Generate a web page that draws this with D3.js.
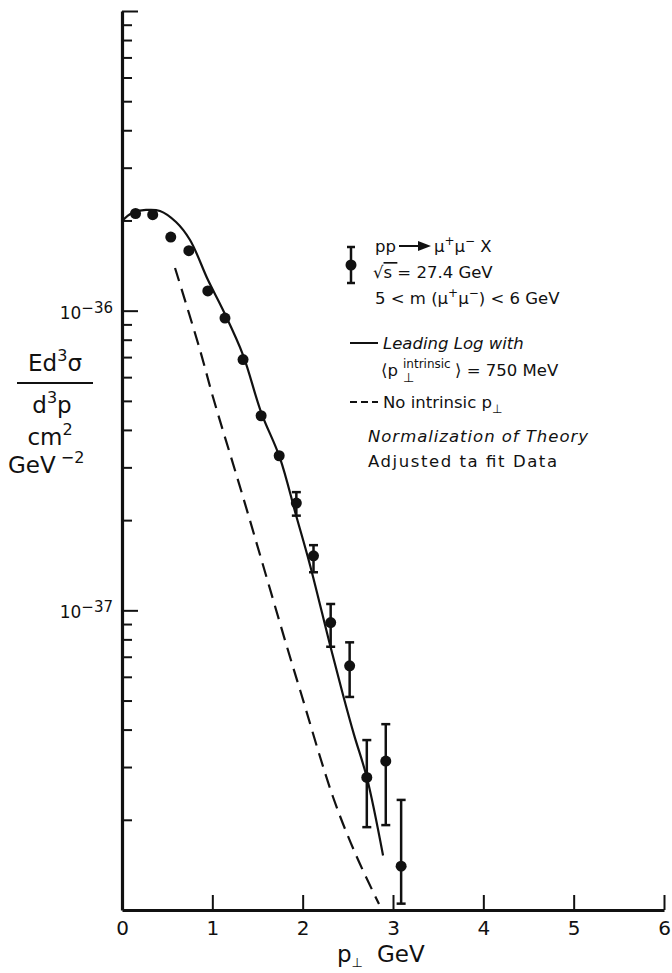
<!DOCTYPE html>
<html>
<head>
<meta charset="utf-8">
<script src="https://cdn.jsdelivr.net/npm/d3@7"></script>
<style>
  body { margin: 0; background: #fff; }
  text { font-family: "DejaVu Sans", sans-serif; fill: #111; }
</style>
</head>
<body>
<div id="chart"></div>
<script>
// measured points (pT in GeV, E d3sigma/d3p in cm^2 GeV^-2)
var ptData  = [0.15, 0.34, 0.54, 0.74, 0.95, 1.14, 1.34, 1.54, 1.74, 1.93, 2.12, 2.31, 2.52, 2.71, 2.92, 3.09];
var sigData = [2.11e-36, 2.09e-36, 1.76e-36, 1.585e-36, 1.164e-36, 9.45e-37, 6.87e-37, 4.46e-37, 3.28e-37,
               2.28e-37, 1.52e-37, 9.10e-38, 6.53e-38, 2.77e-38, 3.14e-38, 1.40e-38];
var errHi = [null, null, null, null, null, null, null, null, null,
             2.48e-37, 1.65e-37, 1.05e-37, 7.82e-38, 3.69e-38, 4.17e-38, 2.33e-38];
var errLo = [null, null, null, null, null, null, null, null, null,
             2.07e-37, 1.34e-37, 7.56e-38, 5.14e-38, 1.89e-38, 1.92e-38, 1.05e-38];

// leading log with intrinsic pT = 750 MeV (solid)
var llPt  = [0, 0.111, 0.266, 0.421, 0.598, 0.753, 0.952, 1.118, 1.34, 1.539, 1.749, 1.926, 2.081, 2.303, 2.447, 2.569, 2.712, 2.89];
var llSig = [1.991e-36, 2.118e-36, 2.168e-36, 2.151e-36, 1.976e-36, 1.721e-36, 1.265e-36, 1.005e-36, 7.11e-37,
             4.59e-37, 3.223e-37, 2.08e-37, 1.417e-37, 7.66e-38, 5.22e-38, 3.84e-38, 2.757e-38, 1.52e-38];

// no intrinsic pT (dashed)
var noPt  = [0.587, 0.8635, 1.007, 1.34, 1.827, 1.971, 2.336, 2.59, 2.845];
var noSig = [1.388e-36, 7.39e-37, 5.15e-37, 2.388e-37, 7.54e-38, 5.42e-38, 2.383e-38, 1.526e-38, 1.047e-38];

var xTicks = [0, 1, 2, 3, 4, 5, 6];
var yMajor = [1e-37, 1e-36, 1e-35];
var yLabelVals = [1e-37, 1e-36];
var yLabelExp = ["\u221237", "\u221236"];

const W = 672, H = 973

const svg = d3.select("#chart").append("svg")
  .attr("width", W)
  .attr("height", H)

var x = d3.scaleLinear().domain([0, 6]).range([122, 664]);
var y = d3.scaleLog().domain([1e-38, 1e-35]).range([910, 11]);

var yMinor = [];
[-38, -37, -36].forEach(function(e) {
  for (var m = 2; m <= 9; m++) yMinor.push(m * Math.pow(10, e));
});

// y axis: minor ticks, then major ticks (both pointing inward)
var gyMinor = svg.append("g")
  .attr("transform", "translate(122,0)")
  .call(d3.axisLeft(y).tickValues(yMinor).tickSizeInner(-10).tickSizeOuter(0).tickFormat(""));
var gyMajor = svg.append("g")
  .attr("transform", "translate(122,0)")
  .call(d3.axisLeft(y).tickValues(yMajor).tickSizeInner(-16).tickSizeOuter(0).tickFormat(""));
gyMajor.select(".domain").remove();
gyMinor.select(".domain").attr("stroke", "#111").attr("stroke-width", 3.2);
svg.selectAll(".tick line").attr("stroke", "#111").attr("stroke-width", 2);

// x axis
var gx = svg.append("g")
  .attr("transform", "translate(0,910)")
  .call(d3.axisBottom(x).tickValues(xTicks).tickSizeInner(-15).tickSizeOuter(0).tickPadding(11).tickFormat(d3.format("d")));
gx.select(".domain").attr("stroke", "#111").attr("stroke-width", 3.2);
gx.selectAll(".tick line").attr("stroke", "#111").attr("stroke-width", 2);
gx.selectAll(".tick text").attr("font-size", 20).attr("fill", "#111")
  .attr("font-family", "DejaVu Sans, sans-serif");

// y tick labels 10^-n
yLabelVals.forEach(function(v, i) {
  var t = svg.append("text").attr("x", 113).attr("y", y(v) + 8)
    .attr("text-anchor", "end").attr("font-size", 17);
  t.append("tspan").text("10");
  t.append("tspan").attr("dy", -6).attr("font-size", 15).text(yLabelExp[i]);
});

// theory curves
var line = d3.line().x(d => x(d[0])).y(d => y(d[1])).curve(d3.curveCatmullRom);

svg.append("path")
  .attr("fill", "none")
  .attr("stroke", "#111")
  .attr("stroke-width", 2.2)
  .attr("d", line(d3.zip(llPt, llSig)));

svg.append("path")
  .attr("fill", "none")
  .attr("stroke", "#111")
  .attr("stroke-width", 2.2)
  .attr("stroke-dasharray", "14,8")
  .attr("d", line(d3.zip(noPt, noSig)));

// data points with error bars
var pts = ptData.map((p, i) => ({pt: p, v: sigData[i], hi: errHi[i], lo: errLo[i]}));
var withErr = pts.filter(d => d.hi != null);

svg.selectAll(".ebar").data(withErr).enter().append("line")
  .attr("x1", d => x(d.pt)).attr("x2", d => x(d.pt))
  .attr("y1", d => y(d.hi)).attr("y2", d => y(d.lo))
  .attr("stroke", "#111").attr("stroke-width", 2.5);
["hi", "lo"].forEach(function(k) {
  svg.selectAll(".cap-" + k).data(withErr).enter().append("line")
    .attr("x1", d => x(d.pt) - 4.5).attr("x2", d => x(d.pt) + 4.5)
    .attr("y1", d => y(d[k])).attr("y2", d => y(d[k]))
    .attr("stroke", "#111").attr("stroke-width", 2.5);
});

svg.selectAll(".dot").data(pts).enter().append("circle")
  .attr("cx", d => x(d.pt)).attr("cy", d => y(d.v)).attr("r", 5.5)
  .attr("fill", "#111");

// axis titles
var yl = svg.append("g").attr("font-size", 23);
var t1 = yl.append("text").attr("x", 55).attr("y", 371).attr("text-anchor", "middle");
t1.append("tspan").text("Ed");
t1.append("tspan").attr("dy", -10).attr("font-size", 16).text("3");
t1.append("tspan").attr("dy", 10).text("\u03c3");
yl.append("line").attr("x1", 17).attr("x2", 93).attr("y1", 383).attr("y2", 383)
  .attr("stroke", "#111").attr("stroke-width", 2);
var t2 = yl.append("text").attr("x", 52).attr("y", 413).attr("text-anchor", "middle");
t2.append("tspan").text("d");
t2.append("tspan").attr("dy", -10).attr("font-size", 16).text("3");
t2.append("tspan").attr("dy", 10).text("p");
var t3 = yl.append("text").attr("x", 50).attr("y", 445).attr("text-anchor", "middle");
t3.append("tspan").text("cm");
t3.append("tspan").attr("dy", -10).attr("font-size", 16).text("2");
var t4 = yl.append("text").attr("x", 8).attr("y", 473);
t4.append("tspan").text("GeV");
t4.append("tspan").attr("dy", -10).attr("font-size", 16).text(" \u22122");

var xl = svg.append("text").attr("x", 337).attr("y", 962).attr("font-size", 23);
xl.append("tspan").text("p");
xl.append("tspan").attr("dy", 5).attr("font-size", 13).text("\u22a5");
xl.append("tspan").attr("dy", -5).attr("dx", 14).text("GeV");

// legend
var lg = svg.append("g").attr("font-size", 16.5);

lg.append("line").attr("x1", 351).attr("x2", 351).attr("y1", 247).attr("y2", 283)
  .attr("stroke", "#111").attr("stroke-width", 2.5);
lg.append("line").attr("x1", 347).attr("x2", 355).attr("y1", 247).attr("y2", 247)
  .attr("stroke", "#111").attr("stroke-width", 2.5);
lg.append("line").attr("x1", 347).attr("x2", 355).attr("y1", 283).attr("y2", 283)
  .attr("stroke", "#111").attr("stroke-width", 2.5);
lg.append("circle").attr("cx", 351).attr("cy", 265).attr("r", 5.5).attr("fill", "#111");

lg.append("text").attr("x", 375).attr("y", 252).text("pp");
lg.append("line").attr("x1", 399).attr("x2", 420).attr("y1", 246).attr("y2", 246)
  .attr("stroke", "#111").attr("stroke-width", 2);
lg.append("path").attr("d", "M418,241 L431,246 L418,251 Z").attr("fill", "#111");
var r1 = lg.append("text").attr("x", 434).attr("y", 252);
r1.append("tspan").text("\u03bc");
r1.append("tspan").attr("dy", -7).attr("font-size", 12).text("+");
r1.append("tspan").attr("dy", 7).text("\u03bc");
r1.append("tspan").attr("dy", -7).attr("font-size", 12).text("\u2212");
r1.append("tspan").attr("dy", 7).text("  X");

var r2 = lg.append("text").attr("x", 373).attr("y", 278);
r2.append("tspan").text("\u221a");
r2.append("tspan").attr("text-decoration", "overline").text("s ");
r2.append("tspan").text(" = 27.4 GeV");

var r3 = lg.append("text").attr("x", 375).attr("y", 304);
r3.append("tspan").text("5 < m (\u03bc");
r3.append("tspan").attr("dy", -7).attr("font-size", 12).text("+");
r3.append("tspan").attr("dy", 7).text("\u03bc");
r3.append("tspan").attr("dy", -7).attr("font-size", 12).text("\u2212");
r3.append("tspan").attr("dy", 7).text(") < 6 GeV");

lg.append("line").attr("x1", 350).attr("x2", 378).attr("y1", 343).attr("y2", 343)
  .attr("stroke", "#111").attr("stroke-width", 2);
lg.append("text").attr("x", 383).attr("y", 349).attr("font-style", "italic").text("Leading Log with");

lg.append("text").attr("x", 381).attr("y", 376).text("\u27e8p");
lg.append("text").attr("x", 403).attr("y", 368).attr("font-size", 12).text("intrinsic");
lg.append("text").attr("x", 403).attr("y", 382).attr("font-size", 13).text("\u22a5");
lg.append("text").attr("x", 455).attr("y", 376).text("\u27e9 = 750 MeV");

lg.append("line").attr("x1", 350).attr("x2", 378).attr("y1", 402).attr("y2", 402)
  .attr("stroke", "#111").attr("stroke-width", 2).attr("stroke-dasharray", "7,4");
var r6 = lg.append("text").attr("x", 383).attr("y", 408);
r6.append("tspan").text("No intrinsic p");
r6.append("tspan").attr("dy", 5).attr("font-size", 12).text("\u22a5");

lg.append("text").attr("x", 368).attr("y", 442).attr("font-style", "italic")
  .attr("textLength", 220).attr("lengthAdjust", "spacing").text("Normalization of Theory");
lg.append("text").attr("x", 368).attr("y", 467)
  .attr("textLength", 189).attr("lengthAdjust", "spacing").text("Adjusted ta fit Data");
</script>
</body>
</html>
